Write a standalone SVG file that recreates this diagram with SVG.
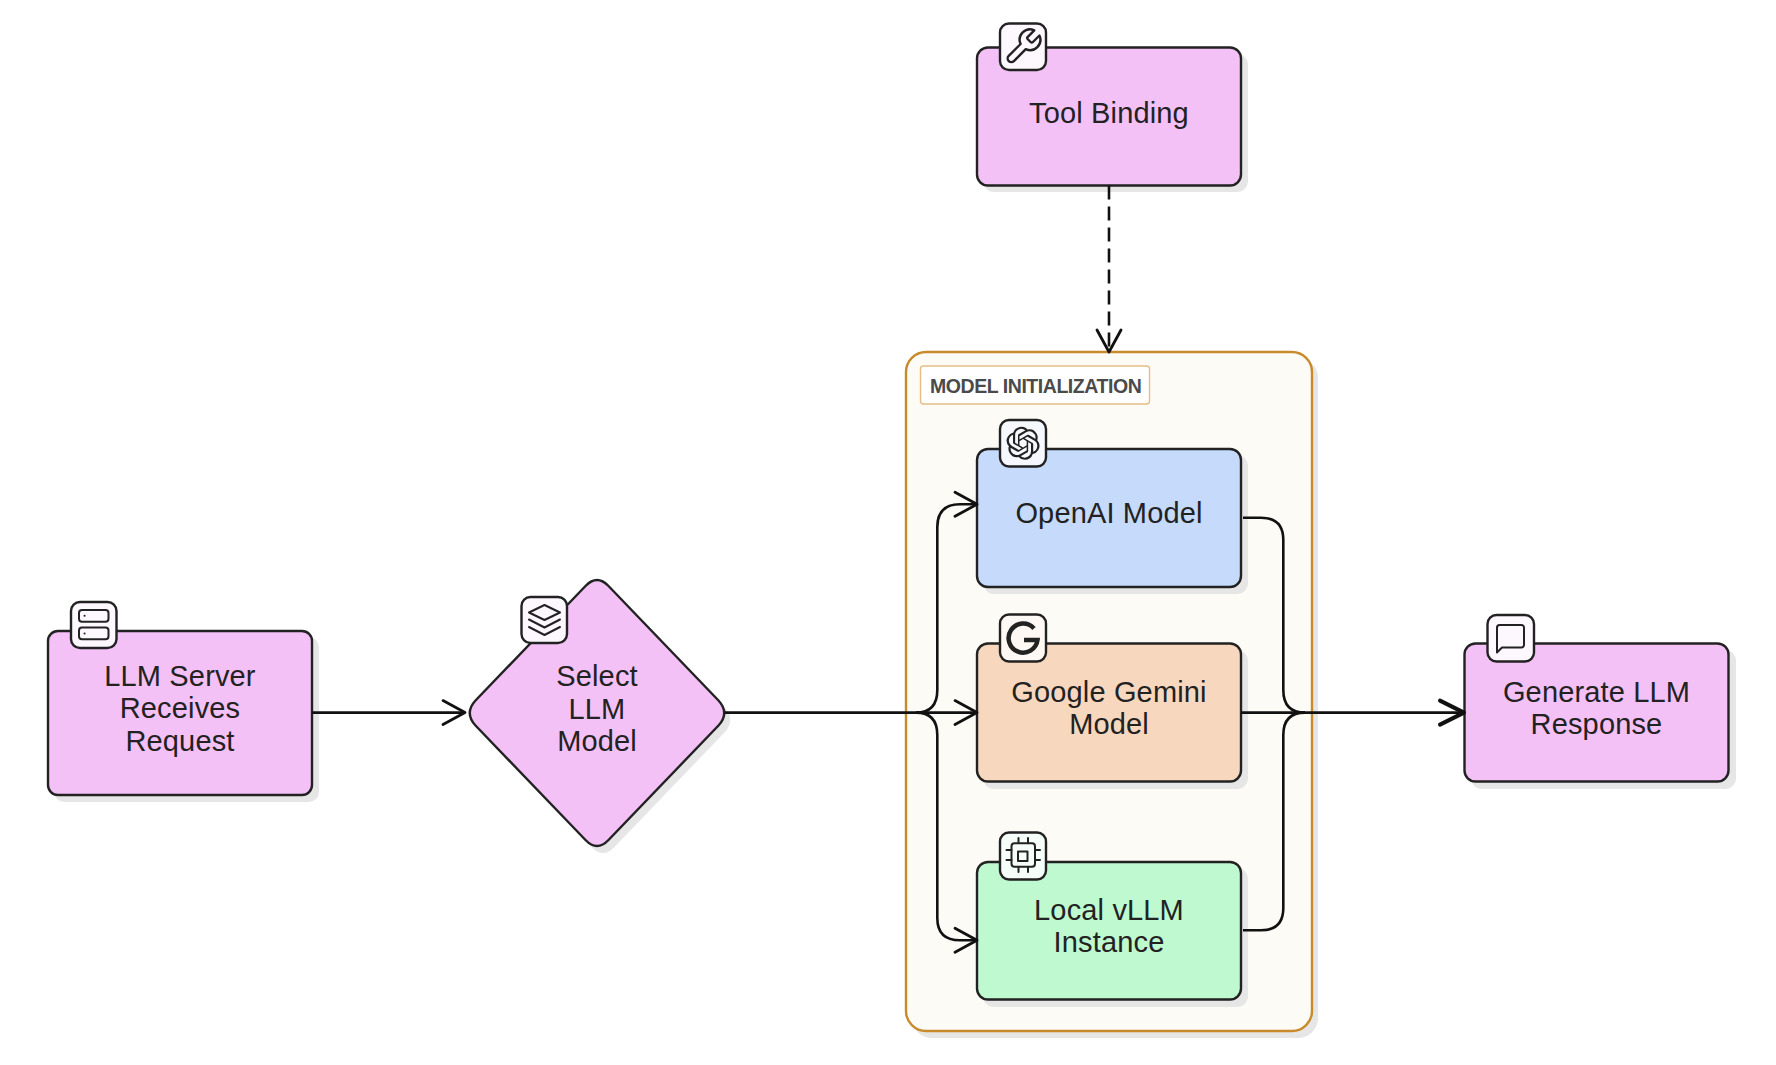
<svg xmlns="http://www.w3.org/2000/svg" width="1776" height="1065" viewBox="0 0 1776 1065">
<style>
.shadow{fill:#e6e6e6;stroke:none}
.node{stroke:#222;stroke-width:2.4}
.pink{fill:#f4c1f7}.blue{fill:#c6dafc}.peach{fill:#f8d7bf}.green{fill:#bef9d0}
.badge{stroke:#222;stroke-width:2.4}
.bpink{fill:#fdf7fe}.bblue{fill:#f5f8fe}.bpeach{fill:#fef8f4}.bgreen{fill:#f5fef8}
.icon{fill:none;stroke:#222;stroke-linecap:round;stroke-linejoin:round}
.t{font-family:"Liberation Sans",Arial,sans-serif;font-size:29px;fill:#222;text-anchor:middle;letter-spacing:.15px}
.lbl{font-family:"Liberation Sans",Arial,sans-serif;font-size:19.5px;font-weight:700;fill:#4a4a4a;letter-spacing:-.45px}
.c{fill:none;stroke:#111;stroke-width:2.6}
.ah{fill:none;stroke:#111;stroke-width:2.8;stroke-linecap:round;stroke-linejoin:round}
</style>
<defs>
<marker id="arrow" markerUnits="userSpaceOnUse" markerWidth="30" markerHeight="32" refX="25" refY="14" orient="auto" viewBox="0 0 30 28" overflow="visible"><path class="ah" d="M3 2 L25 14 L3 26"/></marker>
<marker id="arrowBold" markerUnits="userSpaceOnUse" markerWidth="30" markerHeight="32" refX="25" refY="14" orient="auto" viewBox="0 0 30 28" overflow="visible"><path class="ah" style="stroke-width:4" d="M1 2 L25 14 L1 26"/></marker>
</defs>

<g id="model-initialization">
<rect class="shadow" x="912" y="358" width="406" height="680" rx="20"/>
<rect x="906" y="352" width="406" height="679" rx="20" fill="#fcfbf6" stroke="#c98a2b" stroke-width="2.4"/>
<rect x="920.500" y="366" width="229" height="38" rx="3" fill="#fff" stroke="#e6bd85" stroke-width="1.4"/>
<text class="lbl" x="930" y="392.500">MODEL INITIALIZATION</text>
</g>

<g id="llm-server">
<rect class="shadow" x="54" y="637" width="265" height="165" rx="10"/>
<rect class="node pink" x="48" y="631" width="264" height="164" rx="10"/>
<text class="t" x="180" y="686">LLM Server</text><text class="t" x="180" y="718">Receives</text><text class="t" x="180" y="751">Request</text>
<rect class="badge bpink" x="71" y="602" width="45.500" height="46" rx="9"/>
<g class="icon" stroke-width="2"><rect x="79" y="610" width="29.500" height="11.700" rx="3"/><rect x="79" y="627.600" width="29.500" height="11.700" rx="3"/><path d="M84.500 615.800h.1M84.500 633.500h.1"/></g>
</g>

<g id="select-llm-model">
<path class="shadow" transform="translate(6 7)" d="M585.500 586Q597 574 608.500 586L718.500 700.500Q730 713 718.500 725.500L608.500 840Q597 852 585.500 840L475.500 725.500Q464 713 475.500 700.500Z"/>
<path class="node pink" d="M585.500 586Q597 574 608.500 586L718.500 700.500Q730 713 718.500 725.500L608.500 840Q597 852 585.500 840L475.500 725.500Q464 713 475.500 700.500Z"/>
<text class="t" x="597" y="686">Select</text><text class="t" x="597" y="719">LLM</text><text class="t" x="597" y="751">Model</text>
<rect class="badge bpink" x="521.500" y="597" width="45.500" height="46" rx="9"/>
<g class="icon" stroke-width="2"><path d="M544.500 605L560 612.500L544.500 620L529 612.500Z"/><path d="M529 619.500L544.500 627.500L560 619.500"/><path d="M529 627L544.500 635L560 627"/></g>
</g>

<g id="tool-binding">
<rect class="shadow" x="983" y="54" width="265" height="138" rx="11"/>
<rect class="node pink" x="977" y="47.500" width="264" height="138" rx="11"/>
<text class="t" x="1109" y="122.500">Tool Binding</text>
<rect class="badge bpink" x="1000" y="23.500" width="46" height="46.500" rx="9"/>
<path class="icon" stroke-width="1.4" transform="translate(1002.500 26) scale(1.72)" d="M14.700 6.300a1 1 0 0 0 0 1.400l1.600 1.600a1 1 0 0 0 1.400 0l3.770-3.770a6 6 0 0 1-7.940 7.940l-6.910 6.910a2.120 2.120 0 0 1-3-3l6.910-6.910a6 6 0 0 1 7.940-7.940l-3.760 3.760z"/>
</g>

<g id="openai-model">
<rect class="shadow" x="983" y="455" width="265" height="139" rx="11"/>
<rect class="node blue" x="977" y="449" width="264" height="138" rx="11"/>
<text class="t" x="1109" y="523">OpenAI Model</text>
<rect class="badge bblue" x="1000" y="420" width="46" height="46.500" rx="9"/>
<path fill="#222" transform="translate(1006.500 426.700) scale(1.38)" d="M22.2819 9.8211a5.9847 5.9847 0 0 0-.5157-4.9108 6.0462 6.0462 0 0 0-6.5098-2.9A6.0651 6.0651 0 0 0 4.9807 4.1818a5.9847 5.9847 0 0 0-3.9977 2.9 6.0462 6.0462 0 0 0 .7427 7.0966 5.98 5.98 0 0 0 .511 4.9107 6.051 6.051 0 0 0 6.5146 2.9001A5.9847 5.9847 0 0 0 13.2599 24a6.0557 6.0557 0 0 0 5.7718-4.2058 5.9894 5.9894 0 0 0 3.9977-2.9001 6.0557 6.0557 0 0 0-.7475-7.0729zm-9.022 12.6081a4.4755 4.4755 0 0 1-2.8764-1.0408l.1419-.0804 4.7783-2.7582a.7948.7948 0 0 0 .3927-.6813v-6.7369l2.02 1.1686a.071.071 0 0 1 .038.052v5.5826a4.504 4.504 0 0 1-4.4945 4.4944zm-9.6607-4.1254a4.4708 4.4708 0 0 1-.5346-3.0137l.142.0852 4.783 2.7582a.7712.7712 0 0 0 .7806 0l5.8428-3.3685v2.3324a.0804.0804 0 0 1-.0332.0615L9.74 19.9502a4.4992 4.4992 0 0 1-6.1408-1.6464zM2.3408 7.8956a4.485 4.485 0 0 1 2.3655-1.9728V11.6a.7664.7664 0 0 0 .3879.6765l5.8144 3.3543-2.0201 1.1685a.0757.0757 0 0 1-.071 0l-4.8303-2.7865A4.504 4.504 0 0 1 2.3408 7.872zm16.5963 3.8558L13.1038 8.364 15.1192 7.2a.0757.0757 0 0 1 .071 0l4.8303 2.7913a4.4944 4.4944 0 0 1-.6765 8.1042v-5.6772a.79.79 0 0 0-.407-.667zm2.0107-3.0231l-.142-.0852-4.7735-2.7818a.7759.7759 0 0 0-.7854 0L9.409 9.2297V6.8974a.0662.0662 0 0 1 .0284-.0615l4.8303-2.7866a4.4992 4.4992 0 0 1 6.6802 4.66zM8.3065 12.863l-2.02-1.1638a.0804.0804 0 0 1-.038-.0567V6.0742a4.4992 4.4992 0 0 1 7.3757-3.4537l-.142.0805L8.704 5.459a.7948.7948 0 0 0-.3927.6813zm1.0976-2.3654l2.602-1.4998 2.6069 1.4998v2.9994l-2.5974 1.4997-2.6067-1.4997Z"/>
</g>

<g id="google-gemini-model">
<rect class="shadow" x="983" y="650" width="265" height="139" rx="11"/>
<rect class="node peach" x="977" y="643.500" width="264" height="138" rx="11"/>
<text class="t" x="1109" y="701.500">Google Gemini</text><text class="t" x="1109" y="734">Model</text>
<rect class="badge bpeach" x="1000" y="614.500" width="46" height="47" rx="9"/>
<path class="icon" stroke-width="4.500" style="stroke-linecap:butt;stroke-linejoin:miter" d="M1034 628.500A14.500 14.500 0 1 0 1037.500 640H1024"/>
</g>

<g id="local-vllm-instance">
<rect class="shadow" x="983" y="868" width="265" height="139" rx="11"/>
<rect class="node green" x="977" y="862" width="264" height="137.500" rx="11"/>
<text class="t" x="1109" y="919.500">Local vLLM</text><text class="t" x="1109" y="952">Instance</text>
<rect class="badge bgreen" x="1000" y="832.500" width="46" height="47" rx="9"/>
<g class="icon" stroke-width="2"><rect x="1011.500" y="843.300" width="23.500" height="23.500" rx="3"/><rect x="1018" y="851.500" width="9.500" height="9.500"/><path d="M1018.500 838v5M1028 838v5M1018.500 867v5M1028 867v5M1006.500 850h5M1006.500 860h5M1035 850h5M1035 860h5"/></g>
</g>

<g id="generate-llm-response">
<rect class="shadow" x="1471" y="650" width="265" height="139" rx="11"/>
<rect class="node pink" x="1464.500" y="643.500" width="264" height="138" rx="11"/>
<text class="t" x="1596.500" y="701.500">Generate LLM</text><text class="t" x="1596.500" y="734">Response</text>
<rect class="badge bpink" x="1487.500" y="615" width="46.500" height="46.500" rx="9"/>
<path class="icon" stroke-width="2" d="M1524 645a2.500 2.500 0 0 1-2.500 2.500H1502l-5 5V627.500a2.500 2.500 0 0 1 2.500-2.500H1521.500a2.500 2.500 0 0 1 2.500 2.500z"/>
</g>

<g id="connectors">
<path class="c" d="M312 712.600H465" marker-end="url(#arrow)"/>
<path class="c" d="M724.500 712.600H977" marker-end="url(#arrow)"/>
<path class="c" d="M916 712.600Q937.300 712.600 937.300 690V527Q937.300 504.300 960 504.300H977" marker-end="url(#arrow)"/>
<path class="c" d="M916 712.600Q937.300 712.600 937.300 735V918Q937.300 940.300 960 940.300H977" marker-end="url(#arrow)"/>
<path class="c" stroke-dasharray="14 7" d="M1109 185.500V352" marker-end="url(#arrow)"/>
<path class="c" d="M1243 517.700H1261Q1283.300 517.700 1283.300 540V690Q1283.300 712.600 1305 712.600"/>
<path class="c" d="M1243 930.300H1261Q1283.300 930.300 1283.300 908V735Q1283.300 712.600 1305 712.600"/>
<path class="c" d="M1241 712.600H1464" marker-end="url(#arrowBold)"/>
</g>
</svg>
